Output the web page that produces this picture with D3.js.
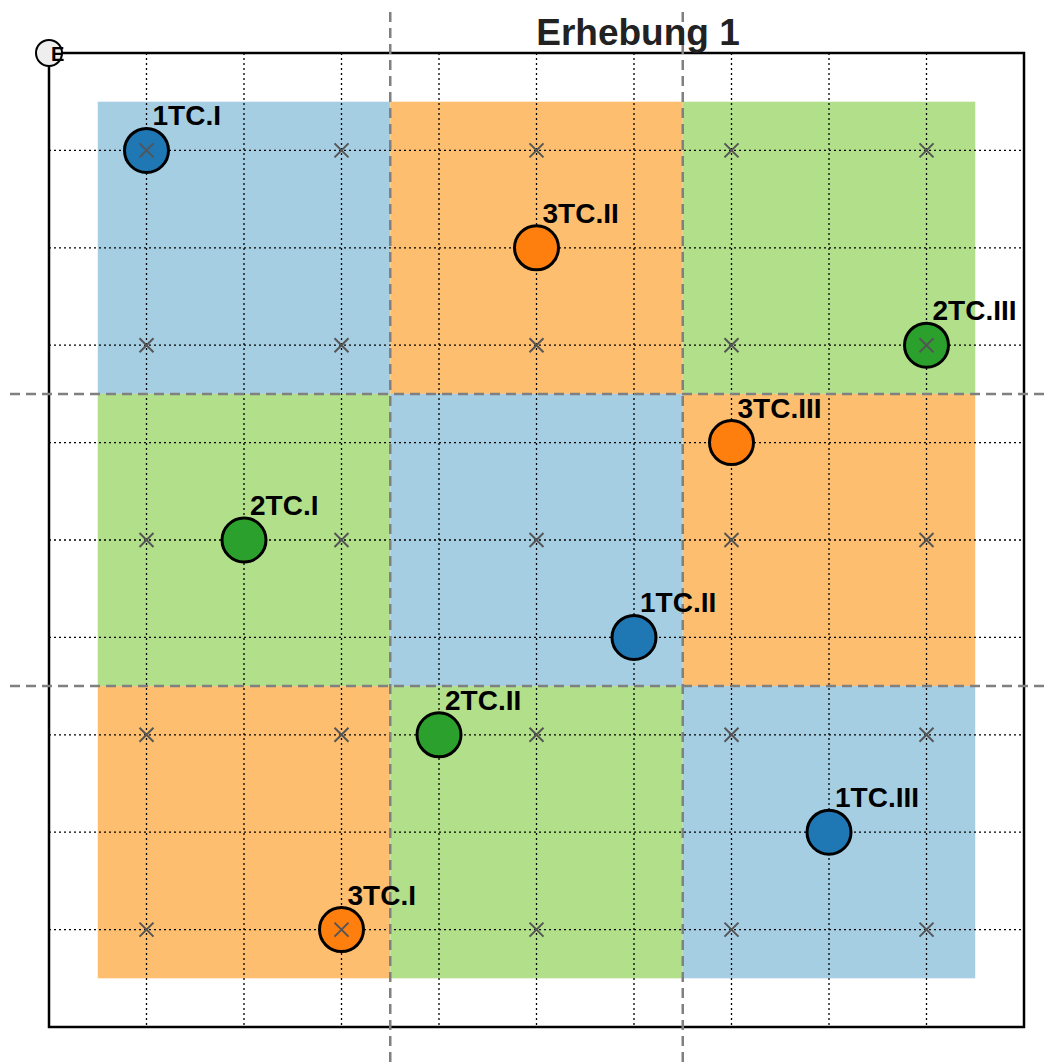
<!DOCTYPE html>
<html>
<head>
<meta charset="utf-8">
<script src="https://cdn.jsdelivr.net/npm/d3@7"></script>
<style>
  body { margin: 0; background: #fff; }
  svg { display: block; font-family: "Liberation Sans", Arial, sans-serif; }
</style>
</head>
<body>
<svg id="chart"></svg>
<script>
// background blocks: [x0, y0, colour]
const blockX = [0.5, 3.5, 6.5];
const blockY = [6.5, 3.5, 0.5];
const blockColors = [
    ["#a6cee3", "#fdbf6f", "#b2df8a"],
    ["#b2df8a", "#a6cee3", "#fdbf6f"],
    ["#fdbf6f", "#b2df8a", "#a6cee3"]
];
const crossX = [1, 3, 5, 7, 9];
const crossY = [1, 3, 5, 7, 9];
const gridTicks = [1, 2, 3, 4, 5, 6, 7, 8, 9];
const splitLines = [3.5, 6.5];

const pointLabels = ["1TC.I", "3TC.II", "2TC.III", "3TC.III", "2TC.I", "1TC.II", "2TC.II", "1TC.III", "3TC.I"];
const pointX = [1, 5, 9, 7, 2, 6, 4, 8, 3];
const pointY = [9, 8, 7, 6, 5, 4, 3, 2, 1];
const pointColors = ["#1f77b4", "#ff7f0e", "#2ca02c", "#ff7f0e", "#2ca02c", "#1f77b4", "#2ca02c", "#1f77b4", "#ff7f0e"];

const W = 1054, H = 1064;
const svg = d3.select("#chart").attr("width", W).attr("height", H);

const x = d3.scaleLinear().domain([0, 10]).range([49, 1024]);
const y = d3.scaleLinear().domain([0, 10]).range([1027, 53]);

// coloured blocks
blockColors.forEach((row, r) => {
    row.forEach((c, k) => {
        svg.append("rect")
            .attr("x", x(blockX[k]))
            .attr("y", y(blockY[r] + 3))
            .attr("width", x(blockX[k] + 3) - x(blockX[k]))
            .attr("height", y(blockY[r]) - y(blockY[r] + 3))
            .attr("fill", c);
    });
});

// dotted grid
svg.selectAll(".vgrid").data(gridTicks).enter().append("line")
    .attr("x1", d => x(d)).attr("x2", d => x(d))
    .attr("y1", y(10)).attr("y2", y(0))
    .attr("stroke", "#000").attr("stroke-width", 1.3)
    .attr("stroke-dasharray", "2,3");
svg.selectAll(".hgrid").data(gridTicks).enter().append("line")
    .attr("y1", d => y(d)).attr("y2", d => y(d))
    .attr("x1", x(0)).attr("x2", x(10))
    .attr("stroke", "#000").attr("stroke-width", 1.3)
    .attr("stroke-dasharray", "2,3");

// crosses
const crosses = [];
crossY.forEach(cy => crossX.forEach(cx => crosses.push([cx, cy])));
const s = 7;
const crossPath = (cx, cy) => `M${cx - s},${cy - s}L${cx + s},${cy + s}M${cx - s},${cy + s}L${cx + s},${cy - s}`;
svg.selectAll(".cross").data(crosses).enter().append("path")
    .attr("d", d => crossPath(x(d[0]), y(d[1])))
    .attr("stroke", "#555").attr("stroke-width", 2).attr("fill", "none");

// frame
svg.append("rect")
    .attr("x", x(0)).attr("y", y(10))
    .attr("width", x(10) - x(0)).attr("height", y(0) - y(10))
    .attr("fill", "none").attr("stroke", "#000").attr("stroke-width", 2.5);

// dashed split lines
svg.selectAll(".vsplit").data(splitLines).enter().append("line")
    .attr("x1", d => x(d)).attr("x2", d => x(d))
    .attr("y1", 12).attr("y2", H)
    .attr("stroke", "#808080").attr("stroke-width", 2.5)
    .attr("stroke-dasharray", "10,6");
svg.selectAll(".hsplit").data(splitLines).enter().append("line")
    .attr("y1", d => y(d)).attr("y2", d => y(d))
    .attr("x1", 10).attr("x2", 1048)
    .attr("stroke", "#808080").attr("stroke-width", 2.5)
    .attr("stroke-dasharray", "10,6");

// points
const pts = pointLabels.map((l, i) => ({ label: l, x: pointX[i], y: pointY[i], color: pointColors[i] }));
svg.selectAll(".pt").data(pts).enter().append("circle")
    .attr("cx", d => x(d.x)).attr("cy", d => y(d.y)).attr("r", 22)
    .attr("fill", d => d.color).attr("stroke", "#000").attr("stroke-width", 3);

// crosses over points
svg.selectAll(".cross2").data(pts.filter(d => d.x % 2 === 1 && d.y % 2 === 1)).enter().append("path")
    .attr("d", d => crossPath(x(d.x), y(d.y)))
    .attr("stroke", "#555").attr("stroke-width", 2).attr("fill", "none");

svg.selectAll(".lbl").data(pts).enter().append("text")
    .attr("x", d => x(d.x) + 6).attr("y", d => y(d.y) - 25)
    .style("font-size", "28px").style("font-weight", "bold")
    .attr("fill", "#000")
    .text(d => d.label);

// title
svg.append("text")
    .attr("x", 638).attr("y", 45)
    .attr("text-anchor", "middle")
    .style("font-size", "37px").style("font-weight", "bold")
    .attr("fill", "#222")
    .text("Erhebung 1");

// corner marker
svg.append("circle").attr("cx", 49).attr("cy", 53).attr("r", 13)
    .attr("fill", "#eee").attr("stroke", "#000").attr("stroke-width", 2);
svg.append("text").attr("x", 51).attr("y", 61)
    .style("font-size", "20px").style("font-weight", "bold")
    .text("E");
</script>
</body>
</html>
